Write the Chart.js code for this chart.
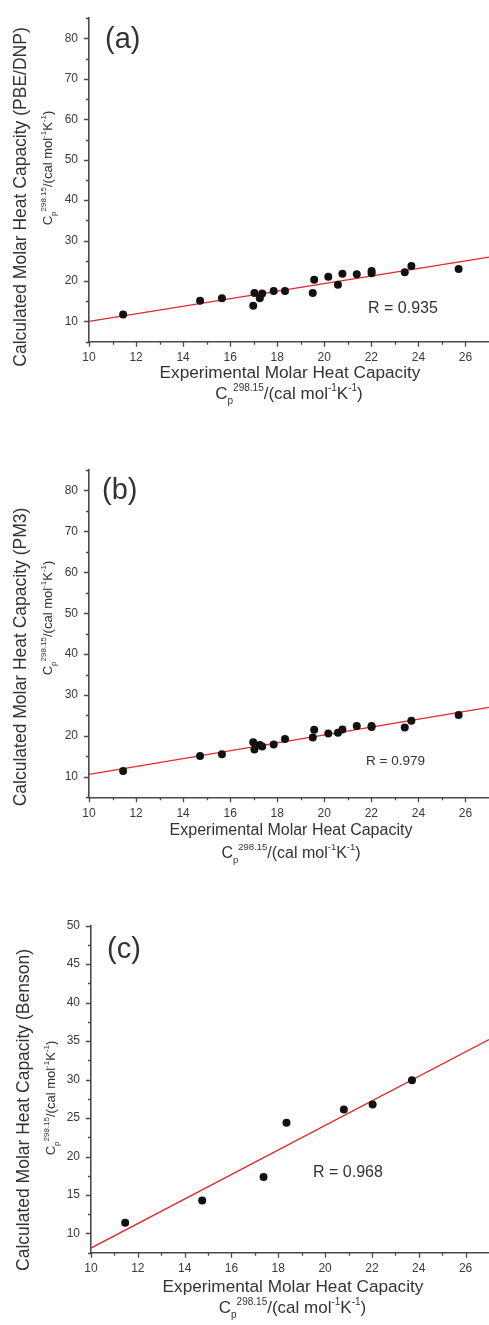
<!DOCTYPE html>
<html><head><meta charset="utf-8">
<script src="https://cdn.jsdelivr.net/npm/chart.js@4.4.1/dist/chart.umd.min.js"></script>
<style>
html,body{margin:0;padding:0;background:#fff;}
body{width:489px;height:1325px;position:relative;overflow:hidden;}
.panel{position:absolute;left:0;width:489px;}
canvas{display:block;}
</style></head><body>
<div class="panel" style="top:0px"><canvas id="ca" width="489" height="430"></canvas></div>
<div class="panel" style="top:440px"><canvas id="cb" width="489" height="440"></canvas></div>
<div class="panel" style="top:880px"><canvas id="cc" width="489" height="445"></canvas></div>
<script>
// ---- data ----
const experimentalAB = [11.45, 14.72, 15.65, 16.98, 17.03, 17.26, 17.36, 17.85, 18.33, 19.51, 19.57, 20.17, 20.58, 20.77, 21.38, 22.01, 22.01, 23.42, 23.70, 25.71];
const calcPBEDNP     = [11.7, 15.1, 15.75, 13.9, 17.05, 15.75, 16.9, 17.55, 17.55, 17.05, 20.3, 21.05, 19.1, 21.8, 21.7, 22.5, 21.9, 22.2, 23.7, 22.95];
const calcPM3        = [11.4, 15.1, 15.5, 18.45, 16.7, 17.8, 17.4, 17.9, 19.25, 19.6, 21.5, 20.6, 20.8, 21.6, 22.45, 22.4, 22.2, 22.05, 23.7, 25.1];
const experimentalC  = [11.46, 14.75, 17.37, 18.35, 20.8, 22.03, 23.71];
const calcBenson     = [11.4, 14.3, 17.35, 24.4, 26.1, 26.75, 29.9];
const fitLineX   = [10, 27];
const fitPBEDNP  = [10.0, 25.9];
const fitPM3     = [10.6, 27.0];
const fitBenson  = [8.1, 35.2];
const xTicksMajor   = [10, 12, 14, 16, 18, 20, 22, 24, 26];
const xTicksMinor   = [11, 13, 15, 17, 19, 21, 23, 25];
const yTicksMajorAB = [10, 20, 30, 40, 50, 60, 70, 80];
const yTicksMinorAB = [5, 15, 25, 35, 45, 55, 65, 75, 85];
const yTicksMajorC  = [10, 15, 20, 25, 30, 35, 40, 45, 50];
const yTicksMinorC  = [7.5, 12.5, 17.5, 22.5, 27.5, 32.5, 37.5, 42.5, 47.5];
const panelLabels = ['(a)', '(b)', '(c)'];
const rLabels = ['R = 0.935', 'R = 0.979', 'R = 0.968'];
const yTitles = ['Calculated Molar Heat Capacity (PBE/DNP)', 'Calculated Molar Heat Capacity (PM3)', 'Calculated Molar Heat Capacity (Benson)'];
const xTitle = 'Experimental Molar Heat Capacity';

const FONT = '"Liberation Sans", Arial, Helvetica, sans-serif';
const TXT = '#333';
const AXIS = '#4a4a4a';

function unitSegs(F, f) {
  return [
    {t: 'C', s: F, dy: 0},
    {t: 'p', s: f, dy: 0.32 * F},
    {t: '298.15', s: f, dy: -0.5 * F},
    {t: '/(cal mol', s: F, dy: 0},
    {t: '-1', s: f, dy: -0.5 * F},
    {t: 'K', s: F, dy: 0},
    {t: '-1', s: f, dy: -0.5 * F},
    {t: ')', s: F, dy: 0}
  ];
}
function drawRich(ctx, segs, cx, y) {
  let w = 0;
  segs.forEach(s => { ctx.font = s.s + 'px ' + FONT; w += ctx.measureText(s.t).width; });
  let x = cx - w / 2;
  ctx.textAlign = 'left'; ctx.textBaseline = 'alphabetic';
  segs.forEach(s => { ctx.font = s.s + 'px ' + FONT; ctx.fillText(s.t, x, y + s.dy); x += ctx.measureText(s.t).width; });
}
function drawText(ctx, t, size, x, y, align) {
  ctx.font = size + 'px ' + FONT; ctx.textAlign = align || 'center'; ctx.textBaseline = 'alphabetic';
  ctx.fillText(t, x, y);
}

function decor(cfg) {
  return {
    id: 'decor' + cfg.idx,
    afterDraw(chart) {
      const ctx = chart.ctx, xs = chart.scales.x, ys = chart.scales.y, ca = chart.chartArea;
      ctx.save();
      ctx.strokeStyle = AXIS; ctx.lineWidth = 1.3;
      ctx.beginPath();
      xTicksMajor.forEach(v => { const p = Math.round(xs.getPixelForValue(v)) + 0.5; ctx.moveTo(p, ca.bottom); ctx.lineTo(p, ca.bottom + 5); });
      xTicksMinor.forEach(v => { const p = Math.round(xs.getPixelForValue(v)) + 0.5; ctx.moveTo(p, ca.bottom); ctx.lineTo(p, ca.bottom + 3); });
      cfg.yMaj.forEach(v => { const p = Math.round(ys.getPixelForValue(v)) + 0.5; ctx.moveTo(ca.left, p); ctx.lineTo(ca.left - 5, p); });
      cfg.yMin.forEach(v => { const p = Math.round(ys.getPixelForValue(v)) + 0.5; ctx.moveTo(ca.left, p); ctx.lineTo(ca.left - 3, p); });
      ctx.stroke();
      ctx.fillStyle = TXT;
      drawText(ctx, xTitle, cfg.xt.size, cfg.xt.cx, cfg.xt.b1);
      drawRich(ctx, unitSegs(cfg.xt.F, cfg.xt.f), cfg.xt.cx2, cfg.xt.b2);
      ctx.save(); ctx.translate(cfg.yt.b1, cfg.yt.c1); ctx.rotate(-Math.PI / 2);
      drawText(ctx, yTitles[cfg.idx], cfg.yt.size, 0, 0);
      ctx.restore();
      ctx.save(); ctx.translate(cfg.yt.b2, cfg.yt.c2); ctx.rotate(-Math.PI / 2);
      drawRich(ctx, unitSegs(cfg.yt.F, cfg.yt.f), 0, 0);
      ctx.restore();
      drawText(ctx, panelLabels[cfg.idx], cfg.lab.size, cfg.lab.x, cfg.lab.b, 'left');
      drawText(ctx, rLabels[cfg.idx], cfg.r.size, cfg.r.x, cfg.r.b, 'left');
      ctx.restore();
    }
  };
}

function makeChart(id, cfg, xsArr, ysArr, fitArr) {
  return new Chart(document.getElementById(id), {
    type: 'scatter',
    data: { datasets: [
      { data: xsArr.map((x, i) => ({x: x, y: ysArr[i]})), backgroundColor: '#111', borderColor: '#111', borderWidth: 0, pointRadius: 4, pointHoverRadius: 4, order: 0 },
      { data: fitLineX.map((x, i) => ({x: x, y: fitArr[i]})), showLine: true, borderColor: '#e3262b', borderWidth: 1.3, pointRadius: 0, pointHoverRadius: 0, fill: false, order: 1 }
    ]},
    options: {
      responsive: false, animation: false, events: [],
      plugins: { legend: {display: false}, tooltip: {enabled: false} },
      layout: { autoPadding: false, padding: {top: cfg.top, left: 0, right: 0, bottom: 0} },
      scales: {
        x: { type: 'linear', min: 10, max: 27,
          afterBuildTicks: s => { s.ticks = xTicksMajor.map(v => ({value: v})); },
          afterFit: s => { s.height = cfg.h - cfg.bottom; },
          grid: {display: false, drawTicks: false},
          border: {display: true, color: AXIS, width: 1.6},
          ticks: {autoSkip: false, maxRotation: 0, padding: cfg.xPad, color: '#3a3a3a', font: {family: FONT, size: cfg.tick}} },
        y: { type: 'linear', min: cfg.ymin, max: cfg.ymax,
          afterBuildTicks: s => { s.ticks = cfg.yMaj.map(v => ({value: v})); },
          afterFit: s => { s.width = cfg.left; },
          grid: {display: false, drawTicks: false},
          border: {display: true, color: AXIS, width: 1.6},
          ticks: {autoSkip: false, padding: 11, color: '#3a3a3a', font: {family: FONT, size: cfg.tick}} }
      }
    },
    plugins: [decor(cfg)]
  });
}

makeChart('ca', {idx: 0, h: 430, top: 14, bottom: 341.7, left: 89, ymin: 5, ymax: 85, yMaj: yTicksMajorAB, yMin: yTicksMinorAB, xPad: 9, tick: 12,
  xt: {size: 17.2, cx: 290, b1: 378, F: 17, f: 10, cx2: 289, b2: 399},
  yt: {size: 17.5, b1: 26, c1: 197, F: 13, f: 8, b2: 52, c2: 168},
  lab: {size: 29, x: 105, b: 48}, r: {size: 16, x: 368, b: 313}}, experimentalAB, calcPBEDNP, fitPBEDNP);

makeChart('cb', {idx: 1, h: 440, top: 30, bottom: 357.3, left: 89, ymin: 5, ymax: 85, yMaj: yTicksMajorAB, yMin: yTicksMinorAB, xPad: 9, tick: 12,
  xt: {size: 16, cx: 291, b1: 395, F: 16, f: 9.5, cx2: 291, b2: 418},
  yt: {size: 17.5, b1: 26, c1: 217, F: 13, f: 8, b2: 52, c2: 178},
  lab: {size: 29, x: 102, b: 59}, r: {size: 13.5, x: 366, b: 325}}, experimentalAB, calcPM3, fitPM3);

makeChart('cc', {idx: 2, h: 445, top: 45.7, bottom: 372.7, left: 91, ymin: 7.5, ymax: 50, yMaj: yTicksMajorC, yMin: yTicksMinorC, xPad: 9, tick: 12,
  xt: {size: 17.2, cx: 293, b1: 412, F: 17, f: 10, cx2: 292.5, b2: 433},
  yt: {size: 17.5, b1: 29, c1: 230, F: 13, f: 8, b2: 55, c2: 218},
  lab: {size: 29, x: 107, b: 77.7}, r: {size: 16, x: 313, b: 297}}, experimentalC, calcBenson, fitBenson);
</script>
</body></html>
